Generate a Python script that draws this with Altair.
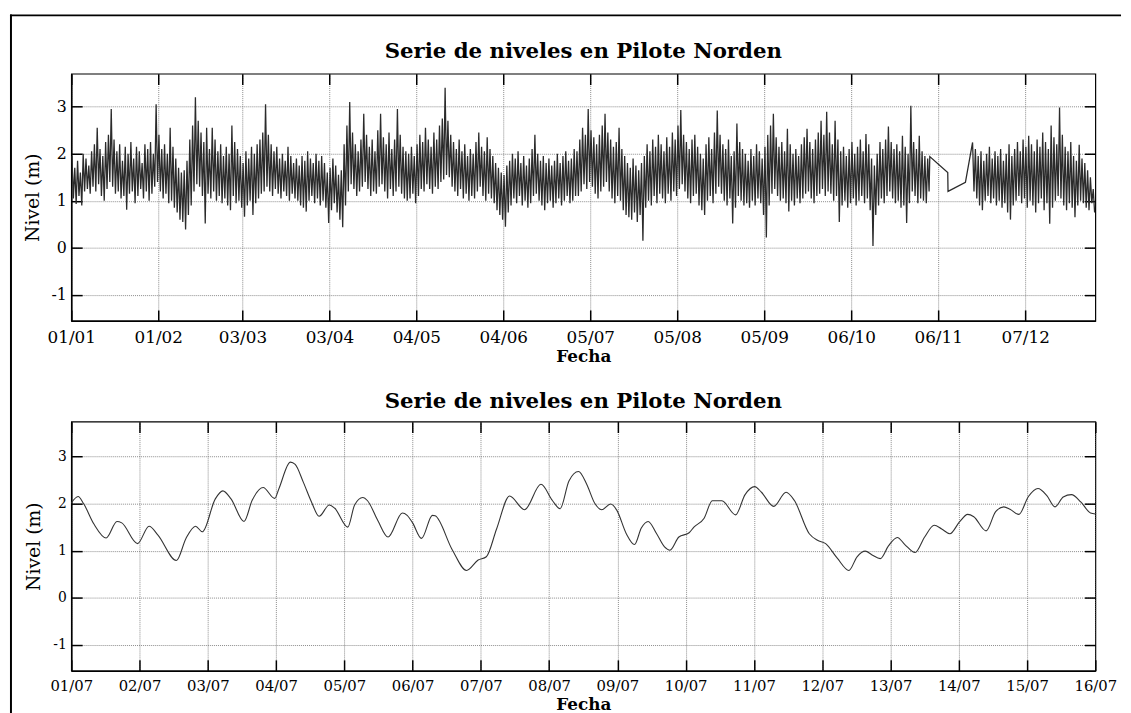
import altair as alt
import pandas as pd

# ---------------- Top panel: one year of levels (daily high / low estimates) ----------------
# days 0..305
hi_a = [
    1.95, 1.70, 1.85, 1.60, 2.00, 1.90, 1.75, 2.05, 2.20, 2.55,
    2.10, 1.95, 2.25, 2.40, 2.95, 2.30, 2.05, 2.20, 1.85, 2.15,
    2.00, 2.25, 1.90, 2.15, 2.05, 1.80, 2.20, 2.10, 2.25, 2.00,
    3.05, 2.40, 2.10, 2.20, 2.00, 2.55, 2.15, 1.90, 1.70, 1.60,
    1.65, 1.85, 2.30, 2.60, 3.20, 2.70, 2.45, 2.25, 2.55, 2.10,
    2.55, 2.30, 2.05, 2.20, 1.95, 2.15, 2.00, 2.60, 2.25, 2.10,
    1.95, 1.80, 2.05, 1.90, 2.15, 2.00, 2.20, 2.30, 2.45, 3.05,
    2.40, 2.20, 2.05, 2.15, 1.90, 2.00, 1.85, 2.15, 1.95, 1.80,
    1.90, 1.75, 1.95, 1.85, 2.05, 1.90, 1.80, 2.00, 1.85, 1.95,
    1.80, 1.60, 1.70, 1.90, 1.75, 1.55, 1.65, 2.20, 2.60, 3.10,
    2.45, 2.20, 2.05, 2.30, 2.85, 2.40, 2.15, 2.30, 2.05, 2.50,
    2.85, 2.35, 2.20, 2.45, 2.10, 2.30, 2.95, 2.40, 2.15, 2.05,
    2.00, 2.15, 1.95, 2.20, 2.40, 2.25, 2.55, 2.30, 2.15, 2.45,
    2.30, 2.60, 2.75, 3.40, 2.70, 2.40, 2.25, 2.10, 2.30, 2.05,
    2.20, 1.95, 2.10, 2.00, 2.25, 2.45, 2.15, 2.05, 2.35, 2.10,
    1.95, 1.80, 1.70, 1.60, 1.55, 1.75, 1.85, 2.00, 1.90, 2.05,
    1.80, 1.95, 1.75, 1.90, 2.10, 2.40, 2.00, 1.85, 1.95, 1.80,
    1.90, 1.75, 1.85, 2.00, 1.80, 1.95, 2.05, 1.85, 1.90, 2.10,
    2.05, 2.30, 2.55, 2.40, 2.95, 2.50, 2.35, 2.20, 2.40, 2.60,
    2.85, 2.45, 2.30, 2.15, 2.25, 2.55, 2.10, 1.95, 1.80, 1.70,
    1.90, 1.75, 1.65, 1.80, 1.95, 2.20, 2.05, 2.30, 2.15, 2.40,
    2.20, 2.05, 2.35, 2.15, 2.45, 2.30, 2.60, 2.93, 2.40, 2.25,
    2.10, 2.30, 2.40, 2.15, 2.00, 1.90, 2.20, 2.35, 2.10, 2.45,
    2.92, 2.40, 2.20, 2.10, 2.30, 1.95, 2.05, 2.64, 2.25, 2.10,
    2.00, 1.85, 2.10, 1.95, 2.20, 2.05, 1.90, 2.15, 2.40, 2.60,
    2.85, 2.35, 2.15, 2.25, 2.05, 2.53, 2.20, 2.00, 2.10, 1.95,
    2.20, 2.35, 2.53, 2.25, 2.10, 2.30, 2.45, 2.70, 2.40, 2.89,
    2.45, 2.20, 2.70, 2.30, 2.05, 2.15, 1.95, 2.10, 2.25, 2.00,
    2.15, 2.30, 2.05, 2.42, 2.20, 1.90, 1.75, 2.00, 2.25, 2.10,
    2.30, 2.58, 2.25, 2.10, 2.20, 2.05, 2.38, 2.15, 2.00, 3.02,
    2.25, 2.10, 2.38, 2.05, 1.95, 1.90,
]
lo_a = [
    1.05, 0.93, 1.10, 0.90, 1.20, 1.25, 1.15, 1.30, 1.20, 1.35,
    1.10, 1.00, 1.25, 1.40, 1.30, 1.15, 1.20, 1.05, 1.10, 0.81,
    1.15, 1.20, 0.95, 1.10, 1.25, 1.05, 1.20, 1.00, 1.15, 1.30,
    1.40, 1.20, 1.05, 1.15, 0.95, 1.00, 0.85, 0.75, 0.60, 0.55,
    0.39, 0.70, 0.90, 1.20, 1.35, 1.30, 1.10, 0.52, 1.15, 1.05,
    1.20, 1.00, 1.10, 0.95, 1.05, 0.90, 0.80, 1.10, 0.95, 1.00,
    0.85, 0.66, 0.90, 1.00, 0.70, 0.95, 1.05, 1.15, 1.20, 1.30,
    1.20, 1.10, 1.25, 1.15, 1.05, 1.20, 1.10, 1.00, 1.15, 1.05,
    1.00, 0.90, 0.85, 0.77, 1.00, 1.10, 0.95, 1.05, 0.90, 1.00,
    0.85, 0.53, 0.80, 0.95, 0.75, 0.60, 0.44, 0.90, 1.20, 1.35,
    1.25, 1.10, 1.20, 1.30, 1.40, 1.25, 1.10, 1.20, 1.15, 1.30,
    1.35, 1.20, 1.05, 1.25, 1.10, 1.20, 1.30, 1.15, 1.05, 1.00,
    1.05, 1.15, 0.95, 1.10, 1.25, 1.20, 1.35, 1.25, 1.15, 1.30,
    1.25, 1.40, 1.45, 1.55, 1.50, 1.30, 1.20, 1.10, 1.25, 1.05,
    1.15, 1.00, 1.10, 1.05, 1.20, 1.30, 1.10, 1.00, 1.15, 1.05,
    0.95, 0.80, 0.70, 0.60, 0.45, 0.75, 0.90, 1.05, 0.95, 1.10,
    0.90, 1.00, 0.85, 0.95, 1.10, 1.15, 1.00, 0.90, 0.80, 0.95,
    1.00, 0.85, 0.95, 1.05, 0.90, 1.00, 1.10, 0.95, 1.00, 1.10,
    1.10, 1.20, 1.35, 1.25, 1.40, 1.30, 1.15, 1.05, 1.20, 1.30,
    1.40, 1.20, 1.05, 0.95, 1.10, 1.00, 0.80, 0.70, 0.65, 0.60,
    0.75, 0.55, 0.70, 0.15, 0.85, 1.00, 0.90, 1.10, 0.95, 1.15,
    1.05, 0.95, 1.15, 1.00, 1.20, 1.10, 1.25, 1.35, 1.20, 1.05,
    0.95, 1.10, 1.15, 0.90, 0.80, 0.70, 1.00, 1.10, 0.95, 1.15,
    1.30, 1.15, 1.00, 0.90, 1.05, 0.52, 0.85, 1.10, 1.00, 0.90,
    0.95, 0.85, 1.00, 0.90, 1.05, 0.95, 0.70, 0.22, 0.90, 1.15,
    1.25, 1.10, 1.00, 1.05, 0.95, 0.77, 1.00, 0.90, 1.05, 0.95,
    1.05, 1.15, 1.20, 1.05, 0.95, 1.10, 1.15, 1.25, 1.10, 1.20,
    1.15, 1.00, 1.10, 0.55, 0.90, 1.00, 0.85, 0.95, 1.05, 0.90,
    1.00, 1.10, 0.95, 1.05, 0.80, 0.04, 0.70, 0.90, 1.05, 0.95,
    1.10, 1.20, 1.05, 0.95, 1.00, 0.85, 0.90, 0.53, 0.95, 1.20,
    1.10, 0.95, 1.05, 1.00, 0.95, 1.20,
]
# sparse records inside the data gap (November)
gap_dias = [306.0, 312.4, 312.5, 318.7]
gap_niveles = [1.94, 1.60, 1.20, 1.39]
# days 321..364
hi_b = [
    2.24, 2.10, 1.95, 2.05, 1.85, 2.00, 2.15, 1.90, 2.05, 1.95,
    2.10, 1.85, 2.00, 2.20, 1.95, 2.10, 2.25, 2.05, 2.30, 2.15,
    2.38, 2.20, 2.05, 2.30, 2.15, 2.45, 2.25, 2.10, 2.60, 2.35,
    2.20, 2.98, 2.40, 2.15, 2.05, 2.25, 1.95, 1.85, 2.19, 1.90,
    1.80, 1.65, 1.50, 1.25,
]
lo_b = [
    1.20, 1.05, 0.90, 0.80, 1.00, 1.10, 0.95, 1.05, 0.90, 1.00,
    0.85, 0.95, 0.75, 0.60, 0.90, 1.00, 1.10, 0.95, 1.05, 0.85,
    1.00, 0.90, 0.75, 0.95, 1.05, 0.80, 0.95, 0.51, 0.85, 1.00,
    1.10, 1.05, 0.90, 0.80, 0.95, 0.85, 0.65, 0.90, 1.00, 0.95,
    0.85, 0.80, 0.95, 0.75,
]
top_ticks = [0, 31, 61, 92, 123, 154, 185, 216, 247, 278, 309, 340]
top_labels = ["01/01", "01/02", "03/03", "03/04", "04/05", "04/06",
              "05/07", "05/08", "05/09", "06/10", "06/11", "07/12"]

# ---------------- Bottom panel: 1-16 July (filtered series) ----------------
jul_dia = [
    0.00, 0.10, 0.18, 0.33, 0.51, 0.67, 0.74, 0.97, 1.14, 1.27,
    1.54, 1.68, 1.82, 1.92, 2.11, 2.22, 2.34, 2.53, 2.65, 2.81,
    2.98, 3.04, 3.21, 3.28, 3.40, 3.52, 3.63, 3.78, 3.86, 4.05,
    4.15, 4.27, 4.34, 4.49, 4.64, 4.85, 4.92, 5.00, 5.13, 5.29,
    5.33, 5.58, 5.79, 5.96, 6.08, 6.23, 6.42, 6.64, 6.88, 7.05,
    7.16, 7.29, 7.43, 7.55, 7.67, 7.77, 7.90, 7.99, 8.13, 8.25,
    8.35, 8.45, 8.57, 8.69, 8.77, 8.90, 9.05, 9.12, 9.27, 9.39,
    9.53, 9.73, 9.87, 10.01, 10.11, 10.29, 10.47, 10.59, 10.81, 10.93,
    11.05, 11.22, 11.39, 11.51, 11.63, 11.73, 11.85, 11.97, 12.10, 12.21,
    12.36, 12.50, 12.64, 12.75, 12.87, 13.01, 13.13, 13.22, 13.40, 13.54,
    13.66, 13.75, 13.88, 14.02, 14.16, 14.29, 14.41, 14.53, 14.65, 14.79,
    14.93, 15.00,
]
jul_nivel = [
    2.01, 2.15, 2.00, 1.57, 1.27, 1.62, 1.59, 1.15, 1.52, 1.33,
    0.79, 1.26, 1.52, 1.40, 2.10, 2.27, 2.10, 1.62, 2.07, 2.34,
    2.11, 2.31, 2.88, 2.83, 2.45, 2.03, 1.73, 1.97, 1.90, 1.50,
    1.97, 2.13, 2.06, 1.64, 1.29, 1.80, 1.75, 1.59, 1.26, 1.75,
    1.74, 1.02, 0.58, 0.80, 0.87, 1.46, 2.16, 1.87, 2.41, 2.06,
    1.89, 2.48, 2.68, 2.41, 2.00, 1.87, 1.99, 1.86, 1.36, 1.13,
    1.48, 1.62, 1.37, 1.08, 1.01, 1.29, 1.38, 1.50, 1.69, 2.06,
    2.06, 1.76, 2.19, 2.36, 2.24, 1.94, 2.24, 2.07, 1.36, 1.22,
    1.15, 0.84, 0.58, 0.87, 0.99, 0.91, 0.83, 1.10, 1.28, 1.13,
    0.96, 1.29, 1.54, 1.46, 1.36, 1.61, 1.77, 1.72, 1.42, 1.83,
    1.93, 1.88, 1.77, 2.15, 2.32, 2.17, 1.93, 2.14, 2.19, 2.03,
    1.80, 1.78,
]
jul_ticks = list(range(16))
jul_labels = ["01/07", "02/07", "03/07", "04/07", "05/07", "06/07", "07/07", "08/07",
              "09/07", "10/07", "11/07", "12/07", "13/07", "14/07", "15/07", "16/07"]

y_ticks = [-1, 0, 1, 2, 3]
titulo = "Serie de niveles en Pilote Norden"

# ---------------- build tables ----------------
dias, niveles = [], []
for d, (h, l) in enumerate(zip(hi_a, lo_a)):
    dias += [d + 0.25, d + 0.75]
    niveles += [h, l]
dias += gap_dias
niveles += gap_niveles
for k, (h, l) in enumerate(zip(hi_b, lo_b)):
    d = 321 + k
    dias += [d + 0.25, d + 0.75]
    niveles += [h, l]
df_top = pd.DataFrame({"dia": dias, "nivel": niveles})
df_bot = pd.DataFrame({"dia": jul_dia, "nivel": jul_nivel})
one = pd.DataFrame({"k": [0]})

W = 1036
FONT = "DejaVu Serif"
GRID = dict(grid=True, gridColor="#6e6e6e", gridWidth=0.8, gridDash=[1, 1])
INNER = dict(labels=False, domain=False, grid=False, ticks=True, tickSize=11,
             tickColor="black", tickWidth=1.5, title=None)


def label_expr(ticks, labels):
    parts = [f"datum.value == {t} ? '{s}'" for t, s in zip(ticks, labels)]
    return " : ".join(parts) + " : ''"


def panel(df, x_dom, y_dom, ticks, labels, H, title_y, xlab, ylab, xpad, stroke, color,
          interp, frames):
    xs = alt.Scale(domain=x_dom, nice=False, zero=False)
    ys = alt.Scale(domain=y_dom, nice=False, zero=False)
    main = alt.Chart(df).mark_line(color=color, strokeWidth=stroke,
                                   interpolate=interp, clip=True).encode(
        x=alt.X("dia:Q", scale=xs, axis=alt.Axis(
            orient="bottom", values=ticks, labelExpr=label_expr(ticks, labels),
            title="Fecha", titleFontWeight="bold", titleFontSize=17, titlePadding=3,
            ticks=False, tickSize=0, labelPadding=xpad, labelFontSize=xlab,
            labelFlush=False, labelOverlap=False, domain=True, domainColor="black",
            domainWidth=1.6, **GRID)),
        y=alt.Y("nivel:Q", scale=ys, axis=alt.Axis(
            orient="left", values=y_ticks, labelExpr="'' + datum.value",
            title="Nivel (m)", titleFontWeight="normal",
            titleFontSize=19, titlePadding=9, ticks=False, tickSize=0, labelPadding=5,
            labelFontSize=ylab, domain=True, domainColor="black", domainWidth=1.6, **GRID)),
    )
    in1 = alt.Chart(df).mark_line(opacity=0).encode(
        x=alt.X("dia:Q", scale=xs, axis=alt.Axis(orient="top", offset=-H, values=ticks, **INNER)),
        y=alt.Y("nivel:Q", scale=ys, axis=alt.Axis(orient="right", offset=-W, values=y_ticks, **INNER)),
    )
    in2 = alt.Chart(df).mark_line(opacity=0).encode(
        x=alt.X("dia:Q", scale=xs, axis=alt.Axis(orient="bottom", offset=-H, values=ticks, **INNER)),
        y=alt.Y("nivel:Q", scale=ys, axis=alt.Axis(orient="left", offset=-W, values=y_ticks, **INNER)),
    )
    title = alt.Chart(one).mark_text(
        text=titulo, font=FONT, fontSize=21.5, fontWeight="bold", color="black",
        align="center", baseline="alphabetic",
    ).encode(x=alt.value(W / 2), y=alt.value(title_y))
    layers = [main, in1, in2, title] + frames
    return alt.layer(*layers).resolve_axis(x="independent", y="independent").properties(
        width=W, height=H,
    )


H1, H2 = 250, 252
RULE = dict(color="black", strokeWidth=2, strokeCap="square")
frame_top = alt.Chart(one).mark_rule(**RULE).encode(
    x=alt.value(-61), x2=alt.value(1061), y=alt.value(-59))
frame_left = alt.Chart(one).mark_rule(**RULE).encode(
    x=alt.value(-61), y=alt.value(-59), y2=alt.value(700))

p1 = panel(df_top, [0, 365], [-1.55, 3.7], top_ticks, top_labels, H1, -16, 17, 16, 9, 1.3,
           "#2b2b2b", "linear", [frame_top, frame_left])
p2 = panel(df_bot, [0, 15], [-1.55, 3.74], jul_ticks, jul_labels, H2, -14, 15, 14, 8, 1.1,
           "#333333", "monotone", [])

chart = alt.vconcat(p1, p2, spacing=102, bounds="flush").properties(
    padding={"left": 0, "top": 0, "right": 0, "bottom": 0},
    background="white",
).configure_view(stroke="black", strokeWidth=1.2).configure_axis(
    labelFont=FONT, titleFont=FONT, labelColor="black", titleColor="black",
)

chart.save("out.html", embed_options={"renderer": "svg", "actions": False})
